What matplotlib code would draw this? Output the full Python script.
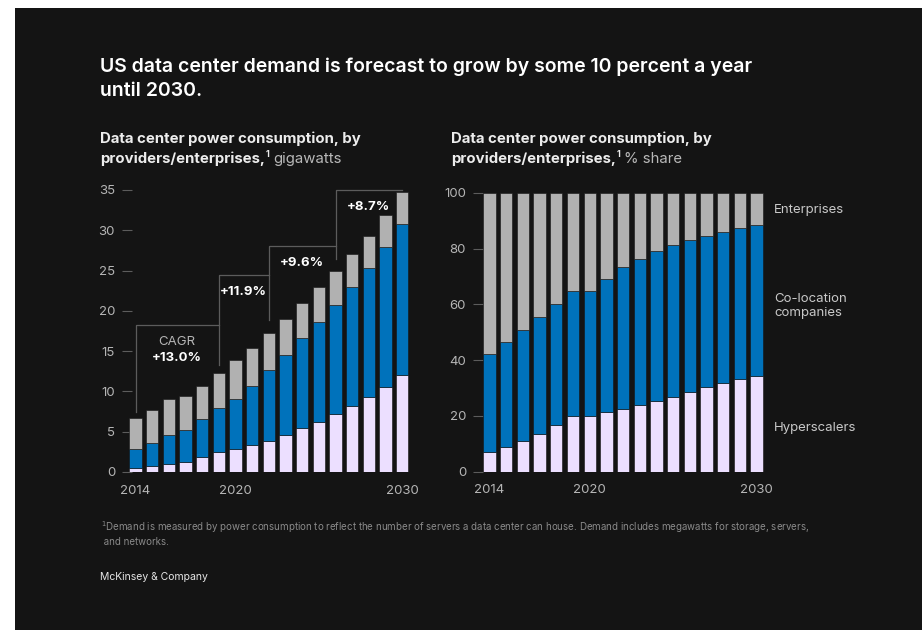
import matplotlib
matplotlib.use("Agg")
import matplotlib.pyplot as plt
from matplotlib.patches import Rectangle

# data
years = list(range(2014, 2031))
hyperscalers_gw = [0.45, 0.75, 1.0, 1.3, 1.8, 2.5, 2.8, 3.3, 3.9, 4.55, 5.4, 6.2, 7.15, 8.2, 9.3, 10.6, 12.0]
colocation_gw = [2.35, 2.8, 3.6, 3.95, 4.75, 5.5, 6.3, 7.4, 8.75, 10.0, 11.2, 12.45, 13.55, 14.7, 16.0, 17.3, 18.75]
enterprise_gw = [3.9, 4.15, 4.4, 4.2, 4.15, 4.3, 4.85, 4.7, 4.6, 4.45, 4.4, 4.25, 4.2, 4.1, 4.0, 4.05, 3.95]

hyperscalers_pct = [6.9, 8.8, 11.0, 13.6, 16.6, 20.1, 20.1, 21.4, 22.5, 23.9, 25.4, 26.9, 28.7, 30.2, 31.8, 33.2, 34.4]
colocation_pct = [35.2, 37.6, 39.9, 42.0, 43.6, 44.7, 44.7, 47.8, 50.7, 52.4, 53.7, 54.2, 54.3, 54.4, 54.2, 54.1, 54.2]
enterprise_pct = [57.9, 53.6, 49.1, 44.4, 39.8, 35.2, 35.2, 30.8, 26.8, 23.7, 20.9, 18.9, 17.0, 15.4, 14.0, 12.7, 11.4]

series_names = ["Hyperscalers", "Co-location\ncompanies", "Enterprises"]
year_ticks = [2014, 2020, 2030]

# CAGR brackets on the left chart
cagr_labels = ["+13.0%", "+11.9%", "+9.6%", "+8.7%"]
cagr_start = [2014, 2019, 2022, 2026]
cagr_end = [2019, 2022, 2026, 2030]
bracket_top = [18.2, 24.5, 28.1, 35.0]
bracket_base = [7.5, 13.3, 18.9, 26.4]

BG = "#141414"
colors = ["#ecdfff", "#0072bb", "#b1b1b1"]
TICK = "#b5b5b5"
LINE = "#5c5c5c"
FONT = ["Inter", "DejaVu Sans"]

plt.rcParams["font.family"] = FONT

fig = plt.figure(figsize=(9.22, 6.3), dpi=100)
fig.patch.set_facecolor("white")
fig.patches.append(Rectangle((15 / 922, 0), 1, 1 - 8 / 630, transform=fig.transFigure,
                             facecolor=BG, edgecolor="none", zorder=-5))

ax1 = fig.add_axes([122 / 922, 1 - 472 / 630, 288 / 922, 282 / 630])
ax2 = fig.add_axes([473 / 922, 1 - 471.7 / 630, 292 / 922, 279 / 630])


def stack(ax, layers):
    bottom = [0] * len(years)
    for vals, c in zip(layers, colors):
        ax.bar(years, vals, bottom=bottom, width=0.74, color=c, edgecolor=BG, linewidth=0.4, zorder=2)
        bottom = [b + v for b, v in zip(bottom, vals)]


stack(ax1, [hyperscalers_gw, colocation_gw, enterprise_gw])
stack(ax2, [hyperscalers_pct, colocation_pct, enterprise_pct])

for ax in (ax1, ax2):
    ax.set_facecolor("none")
    for s in ax.spines.values():
        s.set_visible(False)
    ax.set_xticks(year_ticks)
    ax.set_xticklabels([str(y) for y in year_ticks])
    ax.tick_params(axis="x", length=0, pad=9, labelsize=9.5, labelcolor=TICK)
    ax.tick_params(axis="y", direction="in", length=7, width=0.8, color=LINE,
                   pad=5, labelsize=9.5, labelcolor=TICK)

ax1.set_xlim(2013.19, 2030.47)
ax1.set_ylim(0, 35)
ax1.set_yticks(range(0, 36, 5))
ax2.set_xlim(2013.01, 2030.5)
ax2.set_ylim(0, 100)
ax2.set_yticks(range(0, 101, 20))

# CAGR step brackets
for lab, x0, x1, top, base in zip(cagr_labels, cagr_start, cagr_end, bracket_top, bracket_base):
    ax1.plot([x0, x0, x1], [base, top, top], color=LINE, lw=0.9, zorder=1, clip_on=False)
    y = top - 2.1 if x0 != cagr_start[0] else top - 4.1
    ax1.text((x0 + x1) / 2, y, lab, color="white", fontsize=9.5, fontweight="bold",
             ha="center", va="center")
ax1.text((cagr_start[0] + cagr_end[0]) / 2, bracket_top[0] - 2.1, "CAGR", color=TICK,
         fontsize=9.5, ha="center", va="center")

# series labels on the right chart
label_y = [15.6, 59.5, 93.8]
for name, y in zip(series_names, label_y):
    ax2.text(2031.05, y, name, color="#c8c8c8", fontsize=9.5, ha="left", va="center",
             linespacing=1.25)

# text blocks
fig.text(100 / 922, 1 - 57 / 630, "US data center demand is forecast to grow by some 10 percent a year\nuntil 2030.",
         color="white", fontsize=14, fontweight="semibold", va="top", linespacing=1.5)

fig.canvas.draw()
renderer = fig.canvas.get_renderer()

bold = dict(color="#ececec", fontsize=10.75, fontweight="bold")
sup = dict(color="#ececec", fontsize=6.5, fontweight="bold")
reg = dict(color="#b8b8b8", fontsize=10.75)
for x0, unit in [(100, "gigawatts"), (451, "% share")]:
    fig.text(x0 / 922, 1 - 143 / 630, "Data center power consumption, by", va="baseline", **bold)
    t = fig.text(x0 / 922, 1 - 163 / 630, "providers/enterprises,", va="baseline", **bold)
    xe = t.get_window_extent(renderer).x1 / fig.bbox.width
    fig.text(xe + 1 / 922, 1 - 157 / 630, "1", va="baseline", **sup)
    fig.text(xe + 8 / 922, 1 - 163 / 630, unit, va="baseline", **reg)

fig.text(101 / 922, 1 - 533 / 630,
         "$^1$Demand is measured by power consumption to reflect the number of servers a data center can house. "
         "Demand includes megawatts for storage, servers,\n and networks.",
         color="#8a8a8a", fontsize=7, va="center", linespacing=1.25)
fig.text(100 / 922, 1 - 577 / 630, "McKinsey & Company", color="#e6e6e6", fontsize=7.5, va="center")

fig.savefig("out.png", dpi=100, facecolor=fig.get_facecolor())
